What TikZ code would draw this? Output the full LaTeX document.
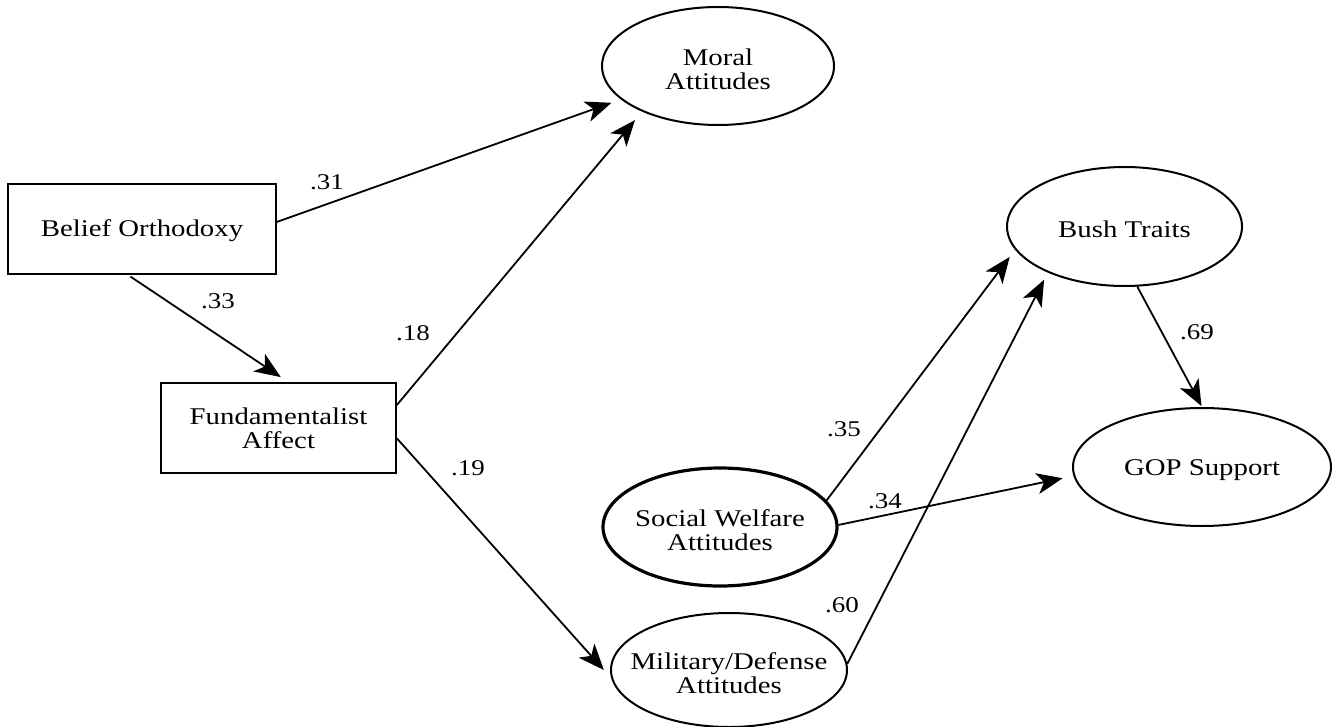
\documentclass[tikz,border=0pt]{standalone}
\usepackage{fontspec}
\setmainfont{Liberation Serif}[FakeStretch=1.2]
\usetikzlibrary{arrows.meta,shapes.geometric}
\newcommand{\twoline}[2]{\raisebox{-7pt}[\height][\depth]{\makebox[0pt]{\begin{tabular}{@{}c@{}}#1\\#2\end{tabular}}}}
\newcommand{\oneline}[1]{\raisebox{-3pt}[\height][\depth]{\makebox[0pt]{#1}}}
\begin{document}
\begin{tikzpicture}[x=1pt,y=-1pt,
  nodefont/.style={font=\fontsize{24}{24}\selectfont},
  box/.style={draw,rectangle,line width=1.8pt,inner sep=0pt,align=center,nodefont},
  oval/.style={draw,ellipse,line width=2pt,inner sep=0pt,nodefont},
  path/.style={line width=1.8pt,-{Stealth[length=26pt,width=21pt,inset=7pt]}},
  coef/.style={inner sep=0pt,font=\fontsize{22.5}{24}\selectfont}]
\useasboundingbox[fill=white] (0,0) rectangle (1335,727);
\node[box,minimum width=268pt,minimum height=90pt] (bel) at (142,229) {\raisebox{-2pt}[\height][\depth]{Belief Orthodoxy}};
\node[box,minimum width=235pt,minimum height=90pt] (fund) at (278.5,428) {Fundamentalist\\Affect};
\node[oval,minimum width=232pt,minimum height=118pt] (moral) at (718,66) {\twoline{Moral}{Attitudes}};
\node[oval,line width=3.2pt,minimum width=234pt,minimum height=118pt] (social) at (720,527) {\twoline{Social Welfare}{Attitudes}};
\node[oval,minimum width=236pt,minimum height=114pt] (mil) at (729,670) {\twoline{Military/Defense}{Attitudes}};
\node[oval,minimum width=235pt,minimum height=119pt] (bush) at (1124.5,226.5) {\oneline{Bush Traits}};
\node[oval,minimum width=258pt,minimum height=118pt] (gop) at (1202,467) {\oneline{GOP Support}};

\draw[path,shorten >=10pt] (bel.3) -- (moral.199);
\draw[path,shorten >=9pt,shorten <=3pt] (bel.253.7) -- (fund.78);
\draw[path,shorten >=11pt] (fund.11) -- (moral.211);
\draw[path,shorten >=11pt] (fund.355.6) -- (mil.184.5);
\draw[path,shorten >=9pt] (social.14) -- (bush.192.8);
\draw[path,shorten >=11pt] (social.1) -- (gop.184);
\draw[path,shorten >=8pt] (mil.3.4) -- (bush.211.8);
\draw[path,shorten >=1pt] (bush.282.8) -- (gop.90);

\node[coef] (c31) at (327,182) {.31};
\node[coef] (c33) at (218,301) {.33};
\node[coef] (c18) at (413,333) {.18};
\node[coef] (c19) at (468,468) {.19};
\node[coef] (c35) at (844,429) {.35};
\node[coef] (c34) at (885,501) {.34};
\node[coef] (c60) at (842,605) {.60};
\node[coef] (c69) at (1197,332) {.69};
\end{tikzpicture}
\end{document}
